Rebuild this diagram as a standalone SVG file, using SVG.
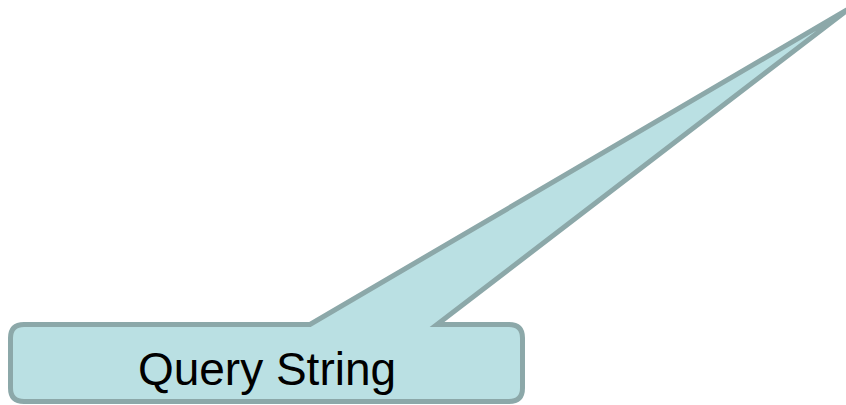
<svg xmlns="http://www.w3.org/2000/svg" width="846" height="405" viewBox="0 0 846 405">
  <style>
    .callout { fill: #BAE0E3; stroke: #8CA8A9; stroke-width: 5; stroke-linejoin: miter; stroke-miterlimit: 40; }
    .label { font-family: "Liberation Sans", Arial, sans-serif; font-size: 46px; fill: #000000; text-anchor: middle; }
  </style>
  <rect x="0" y="0" width="846" height="405" fill="#FFFFFF"/>
  <g id="query-string">
    <!-- rounded box with a long pointer running up to the top-right corner -->
    <path class="callout" d="M 24,324.5 H 310 L 850,8 L 437,324.5 H 509 Q 522.5,324.5 522.5,338 V 388 Q 522.5,401.5 509,401.5 H 24 Q 10.5,401.5 10.5,388 V 338 Q 10.5,324.5 24,324.5 Z"/>
    <text class="label" x="267" y="385">Query String</text>
  </g>
  <g id="connectors"/>
</svg>
